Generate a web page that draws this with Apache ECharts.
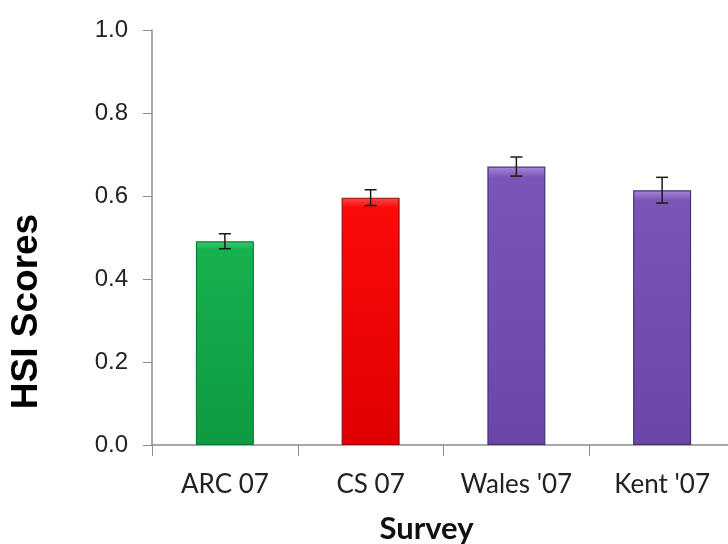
<!DOCTYPE html>
<html>
<head>
<meta charset="utf-8">
<script src="https://cdn.jsdelivr.net/npm/echarts@6/dist/echarts.min.js"></script>
<style>
html,body{margin:0;padding:0;background:#fff;}
#chart{width:728px;height:544px;}
</style>
</head>
<body>
<div id="chart"></div>
<script>
// Data
const categories = ["ARC 07", "CS 07", "Wales '07", "Kent '07"];
const hsiScores = [0.491, 0.596, 0.671, 0.614];
const hsiErrors = [0.018, 0.019, 0.023, 0.031];
const yTicks = [0.0, 0.2, 0.4, 0.6, 0.8, 1.0];

// Styles (kept apart from the data)
const barFill = [
  ["#3fcb72", "#16b24e", "#0f9a42"],
  ["#ff4a4a", "#fc0a0a", "#e00000"],
  ["#a78ad8", "#7b55b8", "#6a47a6"],
  ["#a78ad8", "#7b55b8", "#6a47a6"]
];
const barBorder = ["#0c7d36", "#9c0a0a", "#44307a", "#44307a"];

const chart = echarts.init(document.getElementById('chart'), null, {renderer: 'canvas'});

const barData = hsiScores.map((v, i) => ({
  value: v,
  itemStyle: {
    color: new echarts.graphic.LinearGradient(0, 0, 0, 1, [
      {offset: 0, color: barFill[i][0]},
      {offset: 0.04, color: barFill[i][1]},
      {offset: 1, color: barFill[i][2]}
    ]),
    borderColor: barBorder[i],
    borderWidth: 1.2
  }
}));

const errData = hsiScores.map((v, i) => [i, v - hsiErrors[i], v + hsiErrors[i]]);

const option = {
  backgroundColor: '#ffffff',
  animation: false,
  grid: {left: 152, top: 30, width: 583, height: 415, containLabel: false, outerBoundsMode: 'none'},
  xAxis: {
    type: 'category',
    data: categories,
    boundaryGap: true,
    name: 'Survey',
    nameLocation: 'middle',
    nameGap: 68,
    nameTextStyle: {fontFamily: 'Lato', fontWeight: 'bold', fontSize: 31, color: '#111', padding: [0, 34, 0, 0]},
    axisLine: {lineStyle: {color: '#8c8c8c', width: 1.5}},
    axisTick: {show: true, length: 11, lineStyle: {color: '#8c8c8c'}},
    axisLabel: {fontFamily: 'Lato', fontSize: 26, color: '#222', margin: 27, interval: 0}
  },
  yAxis: {
    type: 'value',
    min: 0,
    max: 1,
    interval: 0.2,
    name: 'HSI Scores',
    nameLocation: 'middle',
    nameGap: 107,
    nameRotate: 90,
    nameTextStyle: {fontFamily: 'Liberation Sans', fontWeight: 'bold', fontSize: 37, color: '#000', padding: [0, 148, 0, 0]},
    axisLine: {show: true, lineStyle: {color: '#8c8c8c', width: 1.5}},
    axisTick: {show: true, length: 9, lineStyle: {color: '#8c8c8c'}},
    splitLine: {show: false},
    axisLabel: {
      fontFamily: 'Liberation Sans', fontSize: 24, color: '#222', margin: 24,
      formatter: v => (yTicks.indexOf(Math.round(v * 10) / 10) >= 0 ? v.toFixed(1) : '')
    }
  },
  series: [
    {
      type: 'bar',
      data: barData,
      barWidth: 58
    },
    {
      type: 'custom',
      data: errData,
      z: 10,
      renderItem: function (params, api) {
        const x = api.value(0);
        const lo = api.coord([x, api.value(1)]);
        const hi = api.coord([x, api.value(2)]);
        const hw = 6;
        const style = {stroke: '#1a1a1a', lineWidth: 1.5};
        return {
          type: 'group',
          children: [
            {type: 'line', shape: {x1: lo[0], y1: lo[1], x2: hi[0], y2: hi[1]}, style: style},
            {type: 'line', shape: {x1: hi[0] - hw, y1: hi[1], x2: hi[0] + hw, y2: hi[1]}, style: style},
            {type: 'line', shape: {x1: lo[0] - hw, y1: lo[1], x2: lo[0] + hw, y2: lo[1]}, style: style}
          ]
        };
      }
    }
  ]
};
chart.setOption(option);
</script>
</body>
</html>
